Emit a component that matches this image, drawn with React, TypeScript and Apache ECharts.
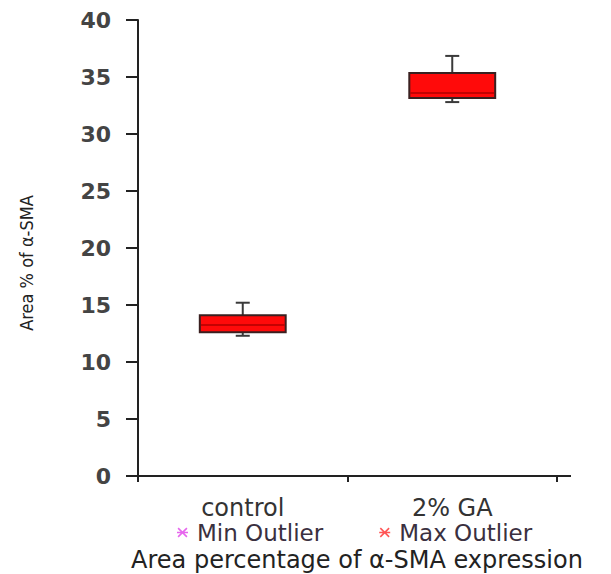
import React, { useEffect, useRef } from "react";
import * as echarts from "echarts";

const categories = ["control", "2% GA"];
// [min, q1, median, q3, max]
const boxStats = [
  [12.3, 12.6, 13.25, 14.1, 15.2],
  [32.8, 33.15, 33.6, 35.35, 36.85],
];
const yTicks = { min: 0, max: 40, interval: 5 };
const legendNames = ["Min Outlier", "Max Outlier"];
const legendColors = ["#e040e8", "#ff2a2a"];
const yAxisTitle = "Area % of α-SMA";
const bottomTitle = "Area percentage of α-SMA expression";

const asterisk =
  "path://M0,4.3 L10,4.3 L10,5.7 L0,5.7 Z M1.5,0.5 L9.5,8.5 L8.5,9.5 L0.5,1.5 Z M8.5,0.5 L9.5,1.5 L1.5,9.5 L0.5,8.5 Z";

export default function App() {
  const ref = useRef<HTMLDivElement>(null);
  useEffect(() => {
    if (!ref.current) return;
    const chart = echarts.init(ref.current, null, { renderer: "svg" });
    const data = boxStats.map((s, i) => [i, ...s]);
    chart.setOption({
      animation: false,
      grid: { left: 138, top: 20, width: 419, height: 456 },
      legend: {
        left: 172,
        top: 516,
        itemWidth: 11,
        itemHeight: 11,
        itemGap: 56,
        icon: asterisk,
        textStyle: { fontFamily: "DejaVu Sans", fontSize: 23, color: "#3a3040", padding: [0, 0, 0, 4] },
        data: legendNames,
      },
      xAxis: {
        type: "category",
        data: categories,
        boundaryGap: true,
        axisLine: { lineStyle: { color: "#222", width: 2 } },
        axisTick: { show: true, length: 6, lineStyle: { color: "#222", width: 2 } },
        axisLabel: {
          margin: 20,
          fontFamily: "DejaVu Sans",
          fontSize: 24,
          color: "#333",
        },
      },
      yAxis: {
        type: "value",
        min: yTicks.min,
        max: yTicks.max,
        interval: yTicks.interval,
        splitLine: { show: false },
        axisLine: { show: true, lineStyle: { color: "#222", width: 2 } },
        axisTick: { show: true, length: 12, lineStyle: { color: "#222", width: 2 } },
        axisLabel: {
          margin: 27,
          fontFamily: "DejaVu Sans",
          fontSize: 22,
          fontWeight: "bold",
          color: "#444",
        },
      },
      graphic: [
        {
          type: "line",
          shape: { x1: 557, y1: 476, x2: 571, y2: 476 },
          style: { stroke: "#222", lineWidth: 2 },
        },
        {
          type: "text",
          x: 26,
          y: 263,
          rotation: Math.PI / 2,
          style: {
            text: yAxisTitle,
            fontFamily: "DejaVu Sans Condensed, Liberation Sans",
            fontSize: 18,
            fill: "#222",
            align: "center",
            verticalAlign: "middle",
          },
        },
        {
          type: "text",
          x: 357,
          y: 560,
          style: {
            text: bottomTitle,
            fontFamily: "DejaVu Sans",
            fontSize: 24,
            fill: "#222",
            align: "center",
            verticalAlign: "middle",
          },
        },
      ],
      series: [
        {
          type: "custom",
          name: "box",
          data,
          renderItem: (params: any, api: any) => {
            const x = api.value(0);
            const pMin = api.coord([x, api.value(1)]);
            const pQ1 = api.coord([x, api.value(2)]);
            const pMed = api.coord([x, api.value(3)]);
            const pQ3 = api.coord([x, api.value(4)]);
            const pMax = api.coord([x, api.value(5)]);
            const bw = api.size([1, 0])[0] * 0.41;
            const cx = pQ1[0];
            const cap = 14;
            const lineStyle = { stroke: "#3a3a3a", lineWidth: 2 };
            return {
              type: "group",
              children: [
                { type: "line", shape: { x1: cx, y1: pQ3[1], x2: cx, y2: pMax[1] }, style: lineStyle },
                { type: "line", shape: { x1: cx - cap / 2, y1: pMax[1], x2: cx + cap / 2, y2: pMax[1] }, style: lineStyle },
                { type: "line", shape: { x1: cx, y1: pQ1[1], x2: cx, y2: pMin[1] }, style: lineStyle },
                { type: "line", shape: { x1: cx - cap / 2, y1: pMin[1], x2: cx + cap / 2, y2: pMin[1] }, style: lineStyle },
                {
                  type: "rect",
                  shape: { x: cx - bw / 2, y: pQ3[1], width: bw, height: pQ1[1] - pQ3[1] },
                  style: { fill: "#ff0a0a", stroke: "#3a2020", lineWidth: 2 },
                },
                {
                  type: "line",
                  shape: { x1: cx - bw / 2 + 1, y1: pMed[1], x2: cx + bw / 2 - 1, y2: pMed[1] },
                  style: { stroke: "#b00000", lineWidth: 1.5 },
                },
              ],
            };
          },
        },
        {
          type: "scatter",
          name: legendNames[0],
          data: [],
          itemStyle: { color: legendColors[0] },
        },
        {
          type: "scatter",
          name: legendNames[1],
          data: [],
          itemStyle: { color: legendColors[1] },
        },
      ],
    });
    return () => chart.dispose();
  }, []);
  return (
    <div
      ref={ref}
      style={{ position: "absolute", left: 0, top: 0, width: 611, height: 574 }}
    />
  );
}
